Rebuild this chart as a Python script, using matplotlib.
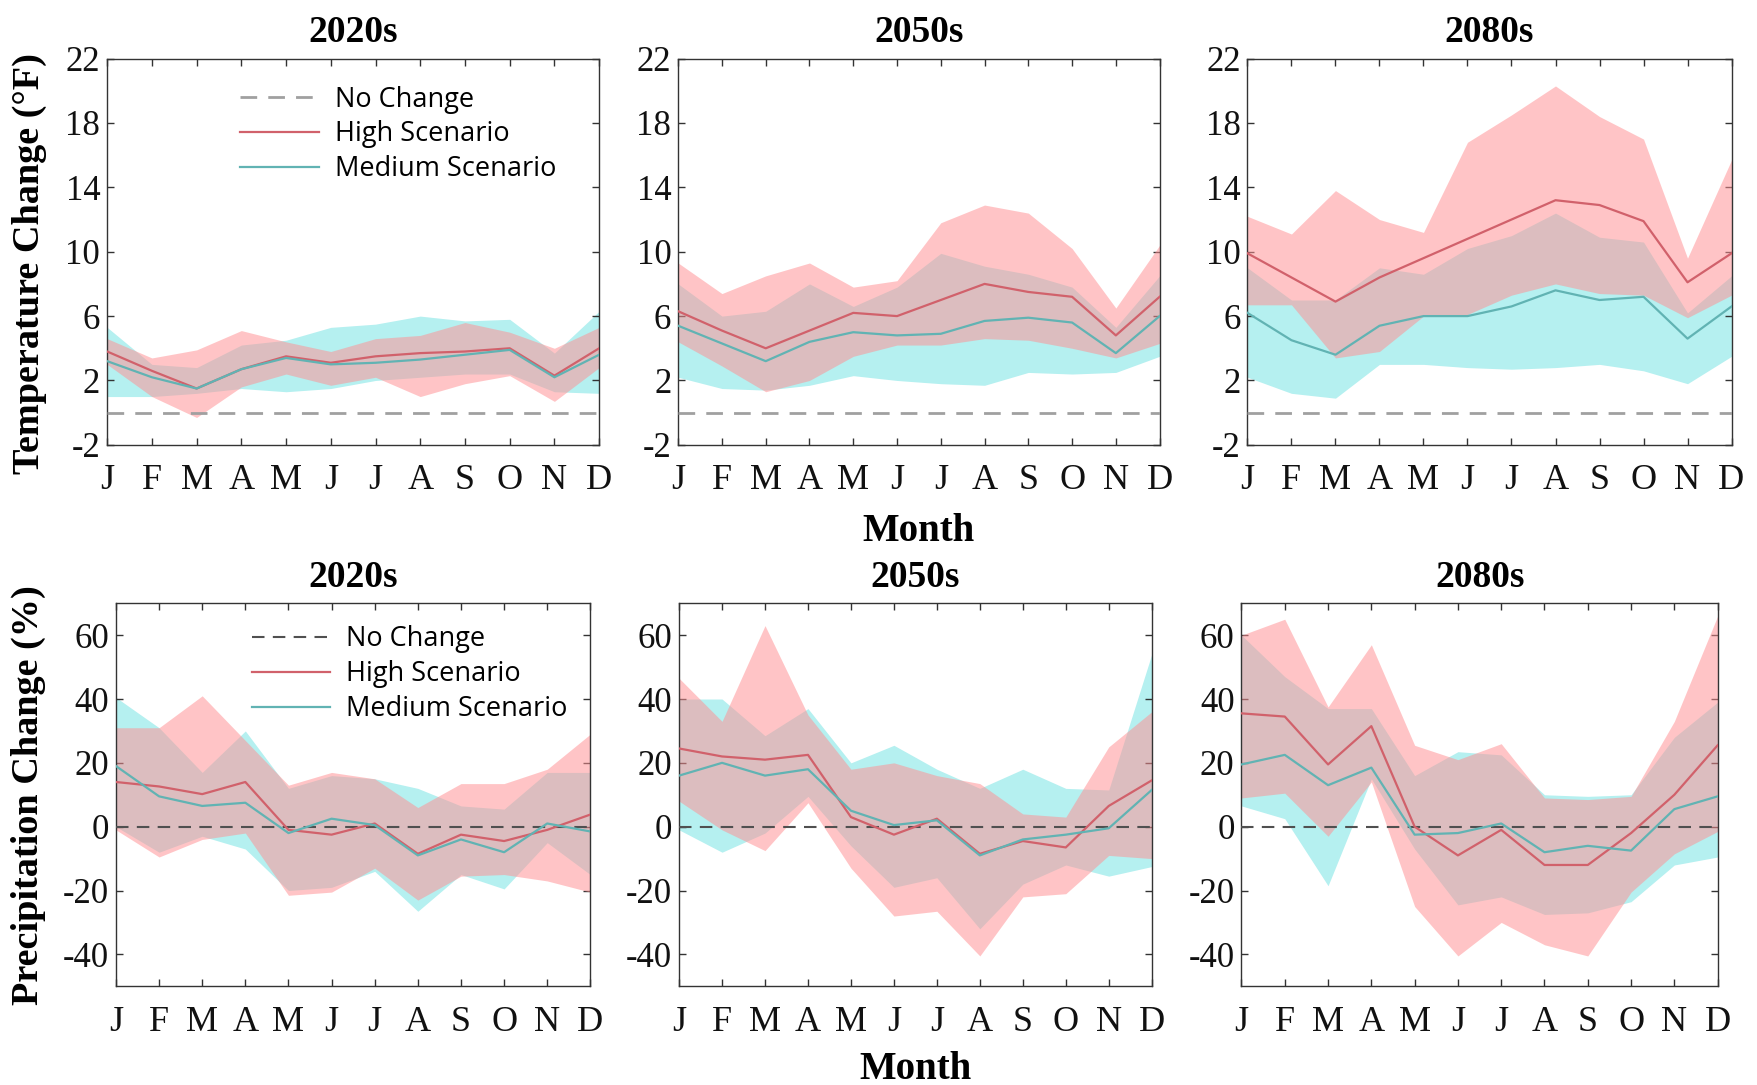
import matplotlib
matplotlib.use("Agg")
import matplotlib.pyplot as plt
import numpy as np

plt.rcParams["axes.unicode_minus"] = False

months = ["J", "F", "M", "A", "M", "J", "J", "A", "S", "O", "N", "D"]
periods = ["2020s", "2050s", "2080s"]

# Temperature change (°F): median lines and ranges, per period
temp_high = {
    "2020s": [3.8, 2.6, 1.5, 2.7, 3.5, 3.1, 3.5, 3.7, 3.8, 4.0, 2.3, 4.0],
    "2050s": [6.3, 5.1, 4.0, 5.1, 6.2, 6.0, 7.0, 8.0, 7.5, 7.2, 4.8, 7.2],
    "2080s": [9.9, 8.4, 6.9, 8.4, 9.6, 10.8, 12.0, 13.2, 12.9, 11.9, 8.1, 9.9],
}
temp_high_hi = {
    "2020s": [4.6, 3.4, 3.9, 5.1, 4.4, 3.8, 4.6, 4.8, 5.6, 5.0, 4.0, 5.3],
    "2050s": [9.3, 7.4, 8.5, 9.3, 7.8, 8.2, 11.8, 12.9, 12.4, 10.2, 6.5, 10.4],
    "2080s": [12.2, 11.1, 13.8, 12.0, 11.2, 16.8, 18.5, 20.3, 18.4, 17.0, 9.6, 15.7],
}
temp_high_lo = {
    "2020s": [3.0, 1.0, -0.3, 1.6, 2.4, 1.7, 2.2, 1.0, 1.8, 2.3, 0.7, 2.8],
    "2050s": [4.4, 2.9, 1.3, 2.0, 3.5, 4.2, 4.2, 4.6, 4.5, 4.0, 3.4, 4.3],
    "2080s": [6.7, 6.7, 3.4, 3.8, 6.0, 6.1, 7.3, 8.0, 7.4, 7.3, 5.9, 7.3],
}
temp_med = {
    "2020s": [3.2, 2.2, 1.5, 2.7, 3.4, 3.0, 3.1, 3.3, 3.6, 3.9, 2.2, 3.6],
    "2050s": [5.4, 4.3, 3.2, 4.4, 5.0, 4.8, 4.9, 5.7, 5.9, 5.6, 3.7, 6.0],
    "2080s": [6.2, 4.5, 3.6, 5.4, 6.0, 6.0, 6.6, 7.6, 7.0, 7.2, 4.6, 6.6],
}
temp_med_hi = {
    "2020s": [5.3, 3.0, 2.8, 4.2, 4.5, 5.3, 5.5, 6.0, 5.7, 5.8, 3.7, 6.3],
    "2050s": [8.0, 6.0, 6.3, 8.0, 6.6, 7.8, 9.9, 9.1, 8.6, 7.8, 5.3, 8.5],
    "2080s": [9.0, 7.0, 7.0, 9.0, 8.6, 10.2, 11.0, 12.4, 10.9, 10.6, 6.2, 8.5],
}
temp_med_lo = {
    "2020s": [1.0, 1.0, 1.2, 1.5, 1.3, 1.5, 2.0, 2.2, 2.4, 2.4, 1.3, 1.2],
    "2050s": [2.2, 1.5, 1.4, 1.7, 2.3, 2.0, 1.8, 1.7, 2.5, 2.4, 2.5, 3.5],
    "2080s": [2.2, 1.2, 0.9, 3.0, 3.0, 2.8, 2.7, 2.8, 3.0, 2.6, 1.8, 3.5],
}

# Precipitation change (%)
prcp_high = {
    "2020s": [14, 12.6, 10.2, 14, -1, -2.5, 1, -8.5, -2.5, -4.5, -1, 3.8],
    "2050s": [24.5, 22, 21, 22.5, 3, -2.5, 2.5, -8.5, -4.5, -6.5, 6.5, 14.5],
    "2080s": [35.5, 34.5, 19.5, 31.5, 0, -9, -1, -12, -12, -2, 10, 25.5],
}
prcp_high_hi = {
    "2020s": [31, 31, 41, 27, 13, 17, 15, 6, 13.5, 13.5, 18, 29],
    "2050s": [46.5, 33, 63, 35, 18, 20, 16, 13.5, 4, 3, 25, 36],
    "2080s": [60, 65, 37.5, 57, 25.5, 21, 26, 9, 8.5, 9.5, 33, 66],
}
prcp_high_lo = {
    "2020s": [-1, -9.5, -4, -2, -21.5, -20.5, -13, -23, -15.5, -15, -17, -20.5],
    "2050s": [8, -1, -7.5, 7.5, -13, -28, -26.5, -40.5, -22, -21, -9, -10],
    "2080s": [9, 10.5, -3, 14, -25, -40.5, -30, -37, -40.5, -20.5, -8.5, -1.5],
}
prcp_med = {
    "2020s": [19, 9.5, 6.5, 7.5, -2, 2.5, 0.5, -9, -4, -8, 1, -1.5],
    "2050s": [16, 20, 16, 18, 5, 0.5, 2, -9, -4, -2.5, -0.5, 11.5],
    "2080s": [19.5, 22.5, 13, 18.5, -2.5, -2, 1, -8, -6, -7.5, 5.5, 9.5],
}
prcp_med_hi = {
    "2020s": [40.5, 31, 17, 30, 12, 16, 15, 12, 6.5, 5.5, 17, 17],
    "2050s": [40, 40, 28.5, 37, 20, 25.5, 18, 12, 18, 12, 11.5, 54],
    "2080s": [60, 47, 37, 37, 16, 23.5, 22.5, 10, 9.5, 10, 28, 39],
}
prcp_med_lo = {
    "2020s": [0, -8, -3, -7, -20, -19, -14, -26.5, -15, -19.5, -5, -15],
    "2050s": [-1, -8, -2, 9.5, -6, -19, -16, -32, -18, -12, -15.5, -12.5],
    "2080s": [6.5, 2.5, -18.5, 15, -7, -24.5, -22, -27.5, -27, -23.5, -12, -9.5],
}

serif = ["Liberation Serif", "DejaVu Serif"]
sans = ["Open Sans", "DejaVu Sans"]

red_fill = (1.0, 0.57, 0.58)
cyan_fill = (0.71, 0.94, 0.94)
red_line = (0.82, 0.38, 0.42)
cyan_line = (0.38, 0.70, 0.70)

fig = plt.figure(figsize=(17.57, 10.85), dpi=100)

# axes boxes (figure fractions)
top_pos = [[0.061, 0.590, 0.280, 0.356],
           [0.386, 0.590, 0.274, 0.356],
           [0.710, 0.590, 0.2755, 0.356]]
bot_pos = [[0.066, 0.091, 0.270, 0.353],
           [0.3865, 0.091, 0.269, 0.353],
           [0.7066, 0.091, 0.271, 0.353]]

x = np.arange(1, 13)


def style_axes(ax, yticks, ylim):
    ax.set_xlim(1, 12)
    ax.set_ylim(*ylim)
    ax.set_xticks(x)
    ax.set_xticklabels(months)
    ax.set_yticks(yticks)
    ax.tick_params(direction="in", top=True, right=True, length=5, width=1,
                   color="#333333")
    ax.tick_params(axis="x", pad=14, labelsize=26)
    ax.tick_params(axis="y", pad=5, labelsize=25)
    for lab in ax.get_xticklabels() + ax.get_yticklabels():
        lab.set_family(serif)
        lab.set_color("#111111")
    for sp in ax.spines.values():
        sp.set_color("#333333")
        sp.set_linewidth(1.0)


def draw_panel(ax, hi_mid, hi_up, hi_lo, md_mid, md_up, md_lo, zero_color, zero_lw, dashes):
    ax.fill_between(x, md_lo, md_up, color=cyan_fill, lw=0, zorder=1)
    ax.fill_between(x, hi_lo, hi_up, color=red_fill, alpha=0.53, lw=0, zorder=2)
    ax.plot(x, np.zeros(12), color=zero_color, lw=zero_lw, dashes=dashes,
            label="No Change", zorder=3)
    ax.plot(x, hi_mid, color=red_line, lw=1.6, label="High Scenario", zorder=4)
    ax.plot(x, md_mid, color=cyan_line, lw=1.6, label="Medium Scenario", zorder=4)


legend_kw = dict(loc="upper left", frameon=False, prop={"family": sans, "size": 19.5},
                 handlelength=2.9, labelspacing=0.25, handletextpad=0.6,
                 borderpad=0, borderaxespad=0)

for i, p in enumerate(periods):
    ax = fig.add_axes(top_pos[i])
    draw_panel(ax, temp_high[p], temp_high_hi[p], temp_high_lo[p],
               temp_med[p], temp_med_hi[p], temp_med_lo[p],
               "#a0a0a0", 2.0, (6, 4))
    style_axes(ax, [-2, 2, 6, 10, 14, 18, 22], (-2, 22))
    ax.set_title(p, fontsize=27, fontweight="bold", family=serif, pad=12)
    if i == 0:
        ax.set_ylabel("Temperature Change (°F)", fontsize=27.5, fontweight="bold",
                      family=serif)
        ax.yaxis.set_label_coords(-0.123, 0.47)
        ax.legend(bbox_to_anchor=(0.271, 0.93), **legend_kw)
    if i == 1:
        ax.set_xlabel("Month", fontsize=28, fontweight="bold", family=serif, labelpad=11)

for i, p in enumerate(periods):
    ax = fig.add_axes(bot_pos[i])
    draw_panel(ax, prcp_high[p], prcp_high_hi[p], prcp_high_lo[p],
               prcp_med[p], prcp_med_hi[p], prcp_med_lo[p],
               "#505050", 1.5, (6, 4))
    style_axes(ax, [-40, -20, 0, 20, 40, 60], (-50, 70))
    ax.set_title(p, fontsize=27, fontweight="bold", family=serif, pad=12)
    if i == 0:
        ax.set_ylabel("Precipitation Change (%)", fontsize=27.5, fontweight="bold",
                      family=serif)
        ax.yaxis.set_label_coords(-0.147, 0.5)
        ax.legend(bbox_to_anchor=(0.286, 0.942), **legend_kw)
    if i == 1:
        ax.set_xlabel("Month", fontsize=28, fontweight="bold", family=serif, labelpad=9)

fig.savefig("out.png", dpi=100)
